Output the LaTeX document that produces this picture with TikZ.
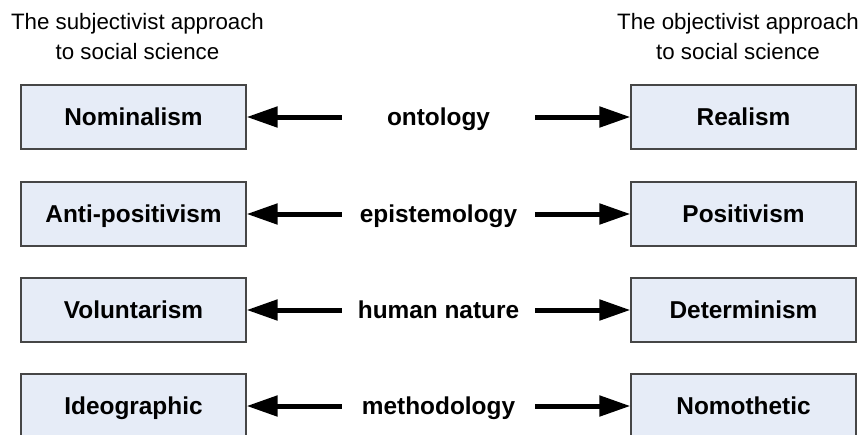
\documentclass[tikz,border=0pt]{standalone}
\usepackage{fontspec}
\setmainfont{Liberation Sans}
\usetikzlibrary{arrows.meta}
\definecolor{boxfill}{RGB}{230,236,247}
\definecolor{boxline}{RGB}{70,70,70}
\begin{document}
\begin{tikzpicture}[x=1pt,y=-1pt,
  concept/.style={draw=boxline, line width=1.2pt, fill=boxfill,
    minimum width=225pt, minimum height=64pt, inner sep=0pt,
    text height=17.5pt, text depth=0pt,
    font=\fontsize{24.4}{28}\selectfont\bfseries},
  dimension/.style={minimum width=193pt, inner sep=0pt,
    text height=17.5pt, text depth=0pt,
    font=\fontsize{24.4}{28}\selectfont\bfseries},
  header/.style={align=center, inner sep=0pt,
    font=\fontsize{22.3}{30}\selectfont},
  link/.style={line width=5pt, -{Triangle[length=31pt,width=20pt]}}]
\useasboundingbox (0,0) rectangle (866,434);
\clip (0,0) rectangle (866,434);
\fill[white] (0,0) rectangle (866,434);

\node[header] (hl) at (137.5,37) {The subjectivist approach\\to social science};
\node[header] (hr) at (738,37) {The objectivist approach\\to social science};

\foreach \y/\a/\m/\b [count=\i] in
  {117/Nominalism/ontology/Realism,
   214/Anti-positivism/epistemology/Positivism,
   310/Voluntarism/human nature/Determinism,
   406/Ideographic/methodology/Nomothetic}{
  \node[concept] (l\i) at (133.5,\y) {\a};
  \node[concept] (r\i) at (743.5,\y) {\b};
  \node[dimension] (d\i) at (438.5,\y) {\m};
  \draw[link] (d\i.west) -- (l\i.east);
  \draw[link] (d\i.east) -- (r\i.west);
}
\end{tikzpicture}
\end{document}
